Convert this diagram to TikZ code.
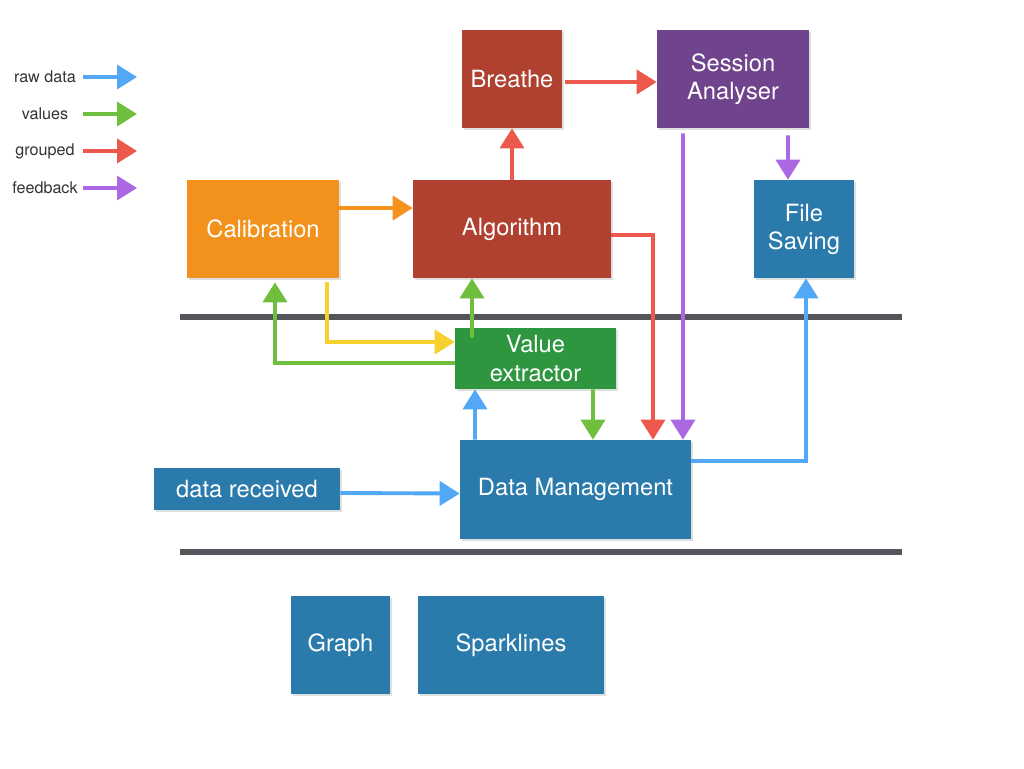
\documentclass[tikz,border=0pt]{standalone}
\usepackage{fontspec}
\setmainfont{TeX Gyre Heros}
\usetikzlibrary{positioning, calc, arrows.meta, shadows}
\definecolor{boxred}{RGB}{176,64,48}
\definecolor{boxpurple}{RGB}{112,68,140}
\definecolor{boxorange}{RGB}{242,146,28}
\definecolor{boxblue}{RGB}{42,122,172}
\definecolor{boxgreen}{RGB}{46,150,62}
\definecolor{arrblue}{RGB}{82,168,245}
\definecolor{arrgreen}{RGB}{112,190,62}
\definecolor{arrred}{RGB}{236,88,76}
\definecolor{arrpurple}{RGB}{172,104,226}
\definecolor{arrorange}{RGB}{245,146,30}
\definecolor{arryellow}{RGB}{246,208,44}
\definecolor{layergray}{RGB}{84,85,90}
\tikzset{
  % boxes
  block/.style    = { inner sep=0, align=center, text=white, font=\fontsize{13.5}{16}\selectfont,
                       drop shadow={shadow xshift=0.04cm, shadow yshift=-0.04cm, opacity=0.25} },
  % connectors
  flow/.style     = { line width=2.2pt, -{Triangle[length=0.4cm, width=0.48cm]} },
  rawdata/.style  = { flow, arrblue },
  values/.style   = { flow, arrgreen },
  grouped/.style  = { flow, arrred },
  feedback/.style = { flow, arrpurple },
  calflow/.style  = { flow, arrorange },
  calvals/.style  = { flow, arryellow },
  layer/.style    = { line width=3pt, layergray },
  legendtext/.style = { font=\fontsize{9.2}{11}\selectfont, text=black!80 }
}
\begin{document}
\begin{tikzpicture}[x=0.02cm, y=-0.02cm]
  \useasboundingbox (0,0) rectangle (1024,768);

  % legend
  \foreach \name/\txt/\y/\sty in {lraw/raw data/77/rawdata, lval/values/114/values,
                                  lgrp/grouped/151/grouped, lfb/feedback/188/feedback} {
    \node[legendtext] (\name) at (45,\y) {\txt};
    \coordinate (\name a) at (83,\y);
    \coordinate (\name b) at (137,\y);
    \draw[\sty] (\name a) -- (\name b);
  }

  % layer separators
  \coordinate (topl) at (180,317);
  \coordinate (topr) at (902,317);
  \coordinate (botl) at (180,552);
  \coordinate (botr) at (902,552);
  \draw[layer] (topl) -- (topr);
  \draw[layer] (botl) -- (botr);

  % boxes
  \node[block, fill=boxred, minimum width=2cm, minimum height=1.96cm] (breathe) at (512,79) {Breathe};
  \node[block, fill=boxpurple, minimum width=3.04cm, minimum height=1.96cm] (session) at (733,79) {Session\\Analyser};
  \node[block, fill=boxorange, minimum width=3.04cm, minimum height=1.96cm] (calib) at (263,229) {Calibration};
  \node[block, fill=boxred, minimum width=3.96cm, minimum height=1.96cm] (algo) at (512,229) {Algorithm};
  \node[block, fill=boxblue, minimum width=2cm, minimum height=1.96cm] (filesave) at (804,229) {File\\Saving};
  \node[block, fill=boxgreen, minimum width=3.22cm, minimum height=1.22cm] (valex) at (535.5,358.5) {Value\\extractor};
  \node[block, fill=boxblue, minimum width=4.62cm, minimum height=1.98cm] (datamgmt) at (575.5,489.5) {Data Management};
  \node[block, fill=boxblue, minimum width=3.72cm, minimum height=0.84cm] (datarecv) at (247,489) {data received};
  \node[block, fill=boxblue, minimum width=1.98cm, minimum height=1.96cm] (graph) at (340.5,645) {Graph};
  \node[block, fill=boxblue, minimum width=3.72cm, minimum height=1.96cm] (spark) at (511,645) {Sparklines};

  % connectors
  \draw[grouped] ([xshift=0.06cm, yshift=-0.06cm]breathe.east) -- ([yshift=-0.06cm]session.west);
  \draw[grouped] (algo.north) -- (breathe.south);
  \draw[calflow] ([yshift=0.42cm]calib.east) -- ([yshift=0.42cm]algo.west);
  \draw[feedback] ([xshift=1.1cm, yshift=-0.14cm]session.south) -- ([xshift=-0.32cm]filesave.north);
  \draw[grouped] ([yshift=-0.12cm]algo.east) -| ([xshift=1.55cm]datamgmt.north);
  \draw[feedback] ([xshift=-1cm, yshift=-0.1cm]session.south) -- ([xshift=2.15cm]datamgmt.north);
  \draw[calvals] ([xshift=1.28cm, yshift=-0.08cm]calib.south) |- ([yshift=0.33cm]valex.west);
  \draw[values] ([yshift=-0.09cm]valex.west) -| ([xshift=0.24cm, yshift=-0.08cm]calib.south);
  \draw[values] ([xshift=-1.27cm, yshift=-0.2cm]valex.north) -- ([xshift=-0.8cm]algo.south);
  \draw[values] ([xshift=1.15cm]valex.south) -- ([xshift=0.35cm]datamgmt.north);
  \draw[rawdata] ([xshift=-2.01cm]datamgmt.north) -- ([xshift=-1.21cm]valex.south);
  \draw[rawdata] ([yshift=-0.08cm]datarecv.east) -- ([yshift=-0.08cm]datamgmt.west);
  \draw[rawdata] ([yshift=0.57cm]datamgmt.east) -| ([xshift=0.04cm]filesave.south);

\end{tikzpicture}
\end{document}
